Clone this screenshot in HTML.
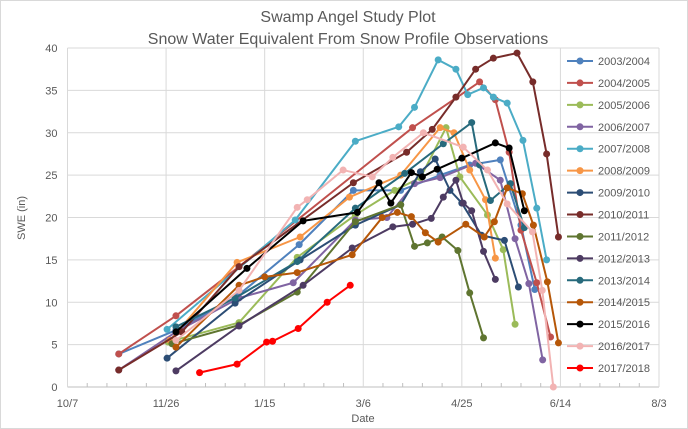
<!DOCTYPE html>
<html><head><meta charset="utf-8"><style>
body{margin:0;background:#fff;}
svg{display:block;font-family:"Liberation Sans",Arial,sans-serif;}
</style></head><body>
<svg id="chart" width="688" height="429" viewBox="0 0 688 429">
<rect x="0.5" y="0.5" width="687" height="428" fill="#fff" stroke="#d9d9d9"/>
<text x="348" y="22" text-anchor="middle" font-size="16" fill="#595959">Swamp Angel Study Plot</text>
<text x="348" y="44" text-anchor="middle" font-size="16" fill="#595959">Snow Water Equivalent From Snow Profile Observations</text>
<text transform="translate(25,218) rotate(-90)" text-anchor="middle" font-size="11" fill="#595959">SWE (in)</text>
<text x="363" y="422" text-anchor="middle" font-size="11" fill="#595959">Date</text>
<g id="grid"></g><g id="series"></g><g id="legend"></g>
</svg>
<script>
const xTickLabels=["10/7","11/26","1/15","3/6","4/25","6/14","8/3"];
const yTickLabels=[0,5,10,15,20,25,30,35,40];
const seriesNames=["2003/2004","2004/2005","2005/2006","2006/2007","2007/2008","2008/2009","2009/2010","2010/2011","2011/2012","2012/2013","2013/2014","2014/2015","2015/2016","2016/2017","2017/2018"];
const seriesColors=["#4f81bd","#c0504d","#9bbb59","#8064a2","#4bacc6","#f79646","#2c4d75","#772c2a","#5f7530","#4d3b62","#276a7c","#b65708","#000000","#f2b3b3","#ff0000"];
// x = days since Oct 7, y = SWE inches
const s0=[[26,3.9],[55,6.7],[86,10.7],[117.5,16.8],[145,23.2],[169,23.2],[189,25],[204,26.2],[219.5,26.8],[230,19.1],[237,11.5]];
const s1=[[26,3.9],[55,8.4],[87,14.2],[175,30.6],[209,36],[217,33.9],[224,27.7],[230,18.5],[238,12.3],[245,5.9]];
const s2=[[51,5.3],[87,7.6],[116.5,15.3],[146,20.3],[166,23.2],[179,24.7],[192,30.6],[199,24.8],[213,20.3],[221,16.2],[227,7.4]];
const s3=[[26,2.0],[55,6.5],[87,10.5],[114.5,12.3],[146,19.7],[162,20.0],[176,24.0],[189,24.7],[207,26.4],[219.5,24.4],[227,17.5],[234,12.2],[241,3.2]];
const s4=[[50.5,6.8],[115.5,19.7],[146,29.0],[168,30.7],[176,33.0],[188,38.6],[197,37.5],[203,34.5],[211,35.3],[216,34.2],[223,33.5],[231,29.1],[238,21.1],[243,15.0]];
const s5=[[52,5.5],[86,14.7],[118,17.7],[143,22.4],[169,25.0],[189,30.6],[196,30.0],[204,25.6],[212,22.1],[217,15.2]];
const s6=[[50.5,3.4],[85,9.9],[118,15.0],[146,19.1],[169,21.5],[179,25.4],[186.5,26.9],[194,23.2],[200,21.7],[210,17.9],[221.6,17.3],[228.7,11.8]];
const s7=[[26,2.0],[58,6.5],[87,14.2],[145,24.1],[172,27.7],[185,30.4],[197,34.2],[207,37.5],[216,38.8],[228,39.4],[236,36.0],[243,27.5],[249,17.7]];
const s8=[[53,5.1],[87,7.3],[116.5,11.2],[146,19.5],[169,21.5],[176,16.6],[182.5,17.0],[190,17.7],[198,16.1],[204,11.1],[211,5.8]];
const s9=[[55,1.9],[87,7.2],[119.5,12.0],[144.4,16.4],[165,18.9],[175,19.2],[184.5,19.9],[190.6,22.4],[197,24.4],[200.7,21.7],[205,20.8],[211,16.0],[217,12.7]];
const s10=[[55,7.1],[85,10.5],[116.5,14.8],[146,21.1],[171,25.2],[190.6,28.7],[205,31.2],[209,26.2],[214.5,22.0],[224.6,24.0],[231.7,18.8]];
const s11=[[55,4.7],[87,12.0],[100,13.0],[116.5,13.5],[144.4,15.6],[159.6,20.0],[167.3,20.6],[174.4,20.1],[181.5,18.2],[188,17.1],[202,19.2],[211.4,17.7],[216.5,19.5],[223,23.5],[230.7,22.8],[236.3,19.1],[243.4,12.4],[249,5.2]];
const s12=[[55,6.5],[91,14.0],[119.5,19.6],[147,20.6],[158,24.1],[164,21.7],[174.4,25.3],[180,24.8],[187.5,25.7],[200,27.0],[217,28.8],[224,28.2],[231.7,20.8]];
const s13=[[55,5.5],[87,11.4],[116.5,21.2],[121.6,22.1],[139.8,25.6],[154.6,24.8],[165,27.1],[180.5,30.0],[200.7,28.3],[213,25.6],[223,21.6],[235.8,18.3],[240.8,11.4],[246.4,0]];
const s14=[[67,1.7],[86,2.7],[101,5.3],[104,5.4],[117,6.9],[131.7,10.0],[143.4,12.0]];
const allSeries=[s0,s1,s2,s3,s4,s5,s6,s7,s8,s9,s10,s11,s12,s13,s14];

const L=67.5,R=659,T=48,B=387,xMax=300,yMax=40;
const X=d=>L+(R-L)*d/xMax, Y=v=>B-(B-T)*v/yMax;
const NS="http://www.w3.org/2000/svg";
function mk(tag,attrs,parent){const e=document.createElementNS(NS,tag);for(const k in attrs)e.setAttribute(k,attrs[k]);parent.appendChild(e);return e;}
const grid=document.getElementById('grid');
yTickLabels.forEach((v,i)=>{
  const l=mk('line',{x1:L,x2:R,y1:Y(v),y2:Y(v),stroke:v===0?'#bfbfbf':'#d9d9d9','stroke-width':1},grid);
  
  
  const t=mk('text',{x:L-10,y:Y(v)+4,'text-anchor':'end','font-size':11,fill:'#595959'},grid);
  t.textContent=v;
  
  
});
xTickLabels.forEach((s,i)=>{
  const d=i*50;
  const l=mk('line',{x1:X(d),x2:X(d),y1:T,y2:B,stroke:'#d9d9d9','stroke-width':1},grid);
  
  
  const t=mk('text',{x:X(d),y:B+20,'text-anchor':'middle','font-size':11,fill:'#595959'},grid);
  t.textContent=s;
  
  
});
for(let d=10;d<xMax;d+=10){ if(d%50===0)continue;
  const m=mk('line',{x1:X(d),x2:X(d),y1:B-4,y2:B,stroke:'#bfbfbf'},grid);
  
  
}
const sg=document.getElementById('series');
allSeries.forEach((pts,i)=>{
  const g=mk('g',{},sg);
  
  
  const pl=mk('polyline',{points:pts.map(p=>X(p[0])+','+Y(p[1])).join(' '),fill:'none',stroke:seriesColors[i],'stroke-width':2,'stroke-linejoin':'round'},g);
  
  
  pts.forEach(p=>{
    const c=mk('circle',{cx:X(p[0]),cy:Y(p[1]),r:3.5,fill:seriesColors[i]},g);
    
    
  });
});
const lg=document.getElementById('legend');
seriesNames.forEach((n,i)=>{
  const y=61+i*21.93;
  const g=mk('g',{},lg);
  
  
  mk('line',{x1:567,x2:593,y1:y,y2:y,stroke:seriesColors[i],'stroke-width':2},g);
  mk('circle',{cx:580,cy:y,r:3.5,fill:seriesColors[i]},g);
  const t=mk('text',{x:598,y:y+4,'font-size':11,fill:'#595959'},g);
  t.textContent=n;
});
</script>
</body></html>
